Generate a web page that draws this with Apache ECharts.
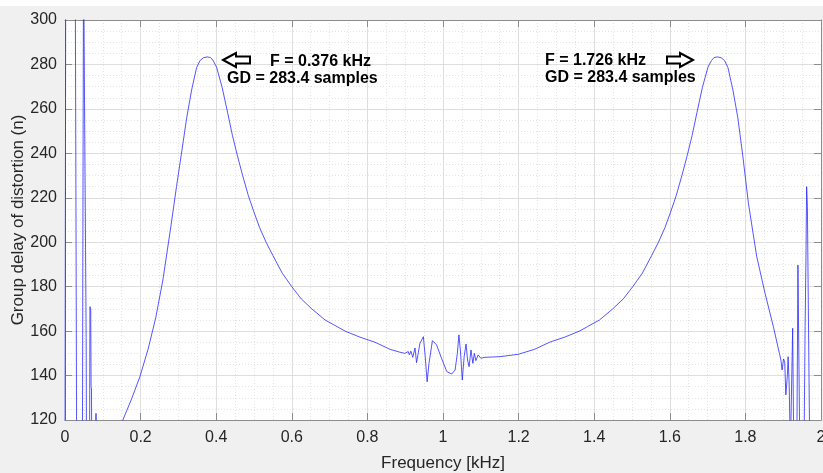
<!DOCTYPE html>
<html>
<head>
<meta charset="utf-8">
<script src="https://cdn.jsdelivr.net/npm/echarts@6/dist/echarts.min.js"></script>
<style>
  html, body { margin: 0; padding: 0; background: #f0f0f0; }
  #main { width: 823px; height: 473px; }
</style>
</head>
<body>
<div id="main"></div>
<script>
// frequency (kHz) and group delay (samples)
var freqKHz = [
  0.000, 0.002, 0.027, 0.031, 0.046, 0.049, 0.051, 0.053, 0.056, 0.057,
  0.065, 0.066, 0.068, 0.069, 0.070, 0.071, 0.080, 0.082, 0.084, 0.100,
  0.130, 0.153, 0.175, 0.198, 0.220, 0.240, 0.259, 0.280, 0.295, 0.309,
  0.322, 0.335, 0.348, 0.357, 0.366, 0.376, 0.385, 0.392, 0.401, 0.416,
  0.430, 0.443, 0.456, 0.470, 0.485, 0.500, 0.515, 0.532, 0.550, 0.575,
  0.600, 0.625, 0.653, 0.688, 0.720, 0.741, 0.780, 0.820, 0.860, 0.886,
  0.899, 0.908, 0.911, 0.915, 0.920, 0.926, 0.930, 0.939, 0.948, 0.953,
  0.958, 0.963, 0.972, 0.983, 0.996, 1.010, 1.023, 1.032, 1.038, 1.042,
  1.046, 1.051, 1.056, 1.061, 1.065, 1.069, 1.074, 1.079, 1.083, 1.087,
  1.093, 1.100, 1.111, 1.151, 1.200, 1.242, 1.282, 1.322, 1.361, 1.382,
  1.414, 1.449, 1.477, 1.502, 1.527, 1.552, 1.570, 1.587, 1.602, 1.617,
  1.632, 1.646, 1.659, 1.672, 1.686, 1.701, 1.710, 1.717, 1.726, 1.736,
  1.745, 1.754, 1.767, 1.780, 1.793, 1.808, 1.830, 1.852, 1.874, 1.890,
  1.894, 1.897, 1.901, 1.904, 1.907, 1.911, 1.913, 1.916, 1.919, 1.922,
  1.925, 1.928, 1.936, 1.939, 1.941, 1.944, 1.955, 1.958, 1.960, 1.962,
  1.964, 1.966, 1.969, 1.971, 2.000
];
var delaySamples = [
  100, 330, 330, 100, 100, 330, 330, 330, 157, 100,
  100, 171, 170, 135, 134, 100, 100, 123, 100, 95,
  110, 120, 129, 139.4, 152, 166, 183, 207, 225, 241,
  256, 268.5, 278.5, 281.7, 283, 283.4, 283.1, 281.7, 278.8, 269.5,
  258.5, 248, 239, 230, 221, 213.5, 206.5, 200, 194, 186,
  180, 174.5, 170, 165, 162, 160, 157.3, 155, 151.8, 150.5,
  150, 150.8, 149.3, 151, 148.2, 152.4, 145.8, 154.5, 157.5, 148.5,
  137.2, 145.5, 155.7, 153.8, 147.8, 141.8, 140.7, 142.5, 150, 158.3,
  151.5, 138, 148.5, 154.2, 147, 144, 151.5, 145.5, 150, 146.7,
  149.3, 147.8, 148.2, 148.5, 149.6, 151.8, 155, 157.3, 160, 162,
  165, 170, 174.5, 180, 186, 194, 200, 206.5, 213.5, 221,
  230, 239, 248, 258.5, 269.5, 278.8, 281.7, 283.1, 283.4, 283,
  281.7, 278.5, 268.5, 256, 239, 217.5, 193.5, 177, 162, 150,
  147, 142.5, 147.5, 146, 131.3, 140, 148.5, 135, 105, 105,
  161.3, 105, 105, 189.7, 189, 105, 105, 162, 190, 225,
  216, 180, 126, 100, 100
];
var xTicks = [0, 0.2, 0.4, 0.6, 0.8, 1, 1.2, 1.4, 1.6, 1.8, 2];
var yTicks = [120, 140, 160, 180, 200, 220, 240, 260, 280, 300];

var points = [];
for (var i = 0; i < freqKHz.length; i++) {
  points.push([freqKHz[i], delaySamples[i]]);
}

var chart = echarts.init(document.getElementById('main'));
var textColor = '#262626';
var axisColor = '#8c8c8c';
var fontName = 'Liberation Sans, Arial, sans-serif';

function makeAxis(pos, isX, showLabel, minV, maxV, step) {
  return {
    type: 'value',
    position: pos,
    min: minV,
    max: maxV,
    interval: step,
    axisLine: { show: true, onZero: false, lineStyle: { color: axisColor, width: 1 } },
    axisTick: { show: true, inside: true, length: 7, lineStyle: { color: axisColor } },
    axisLabel: {
      show: showLabel,
      color: textColor,
      fontSize: 16,
      fontFamily: fontName,
      margin: isX ? 10 : 8
    },
    splitLine: { show: showLabel, lineStyle: { color: '#dedede', width: 1 } },
    minorTick: { show: showLabel, splitNumber: 4, length: 0 },
    minorSplitLine: { show: showLabel, lineStyle: { color: '#e3e3e3', type: [1, 2], width: 1 } }
  };
}

var xBottom = makeAxis('bottom', true, true, xTicks[0], xTicks[xTicks.length - 1], 0.2);
xBottom.name = 'Frequency [kHz]';
xBottom.nameLocation = 'middle';
xBottom.nameGap = 35;
xBottom.nameMoveOverlap = false;
xBottom.nameTextStyle = { color: textColor, fontSize: 17, fontFamily: fontName };
xBottom.axisLabel.formatter = function (v) { return String(+v.toFixed(1)); };

var yLeft = makeAxis('left', false, true, yTicks[0], yTicks[yTicks.length - 1], 20);
yLeft.name = 'Group delay of distortion (n)';
yLeft.nameLocation = 'middle';
yLeft.nameGap = 38;
yLeft.nameMoveOverlap = false;
yLeft.nameTextStyle = { color: textColor, fontSize: 17, fontFamily: fontName };

var option = {
  animation: false,
  backgroundColor: '#f0f0f0',
  grid: {
    left: 65, right: 2, top: 20, bottom: 53,
    outerBoundsMode: 'none',
    containLabel: false,
    show: true, backgroundColor: '#ffffff', borderWidth: 0
  },
  xAxis: [xBottom, makeAxis('top', true, false, 0, 2, 0.2)],
  yAxis: [yLeft, makeAxis('right', false, false, 120, 300, 20)],
  series: [{
    type: 'line',
    xAxisIndex: 0,
    yAxisIndex: 0,
    data: points,
    showSymbol: false,
    clip: true,
    lineStyle: { color: '#2a2aff', width: 0.8 }
  }],
  graphic: [
    { type: 'rect', shape: { x: 0, y: 0, width: 823, height: 6 }, style: { fill: '#ffffff' }, silent: true },
    {
      type: 'polygon', z: 100,
      shape: { points: [[223, 60], [236, 53], [236, 56.5], [250, 56.5], [250, 63.5], [236, 63.5], [236, 67]] },
      style: { fill: '#ffffff', stroke: '#000000', lineWidth: 2 }
    },
    {
      type: 'polygon', z: 100,
      shape: { points: [[693, 60], [680, 53], [680, 56.5], [667, 56.5], [667, 63.5], [680, 63.5], [680, 67]] },
      style: { fill: '#ffffff', stroke: '#000000', lineWidth: 2 }
    },
    { type: 'text', z: 100, x: 270, y: 62, style: { text: 'F = 0.376 kHz', fill: '#000', font: 'bold 16px ' + fontName, verticalAlign: 'middle' } },
    { type: 'text', z: 100, x: 227, y: 79, style: { text: 'GD = 283.4 samples', fill: '#000', font: 'bold 16px ' + fontName, verticalAlign: 'middle' } },
    { type: 'text', z: 100, x: 545, y: 61, style: { text: 'F = 1.726 kHz', fill: '#000', font: 'bold 16px ' + fontName, verticalAlign: 'middle' } },
    { type: 'text', z: 100, x: 545, y: 78, style: { text: 'GD = 283.4 samples', fill: '#000', font: 'bold 16px ' + fontName, verticalAlign: 'middle' } }
  ]
};
chart.setOption(option);
</script>
</body>
</html>
